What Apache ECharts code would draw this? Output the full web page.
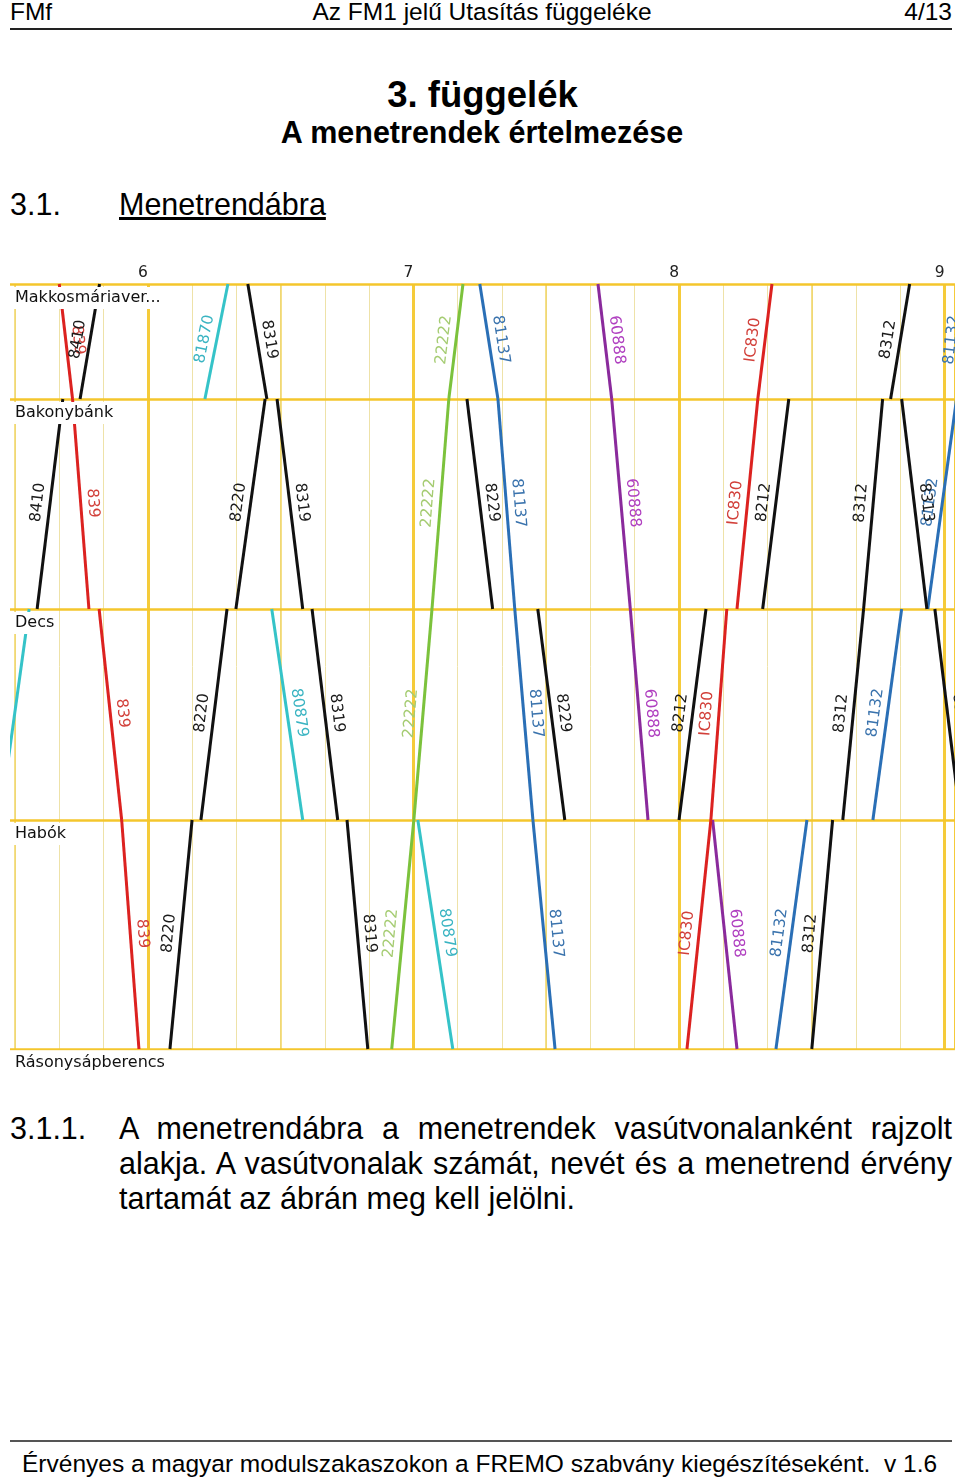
<!DOCTYPE html>
<html lang="hu">
<head>
<meta charset="utf-8">
<title>Menetrendábra</title>
<script src="https://cdn.jsdelivr.net/npm/echarts@6.0.0/dist/echarts.min.js"></script>
<style>
  body { margin: 0; background: #fff; }
  .page { position: relative; width: 960px; height: 1479px; overflow: hidden;
          font-family: 'Liberation Sans', Arial, sans-serif; color: #000; }
  .t { position: absolute; white-space: nowrap; line-height: 1; }
  .rule { position: absolute; left: 10px; width: 942px; height: 2px; background: #222; }
  .para { position: absolute; left: 119px; top: 1111px; width: 833px; font-size: 30.5px; line-height: 35px; }
  .para .j { text-align: justify; text-align-last: justify; }
  #chart { position: absolute; left: 10px; top: 250px; width: 945px; height: 830px; }
</style>
</head>
<body>
<div class="page">
  <div class="t" style="left:10px;top:0;font-size:24.5px">FMf</div>
  <div class="t" style="left:0;width:964px;text-align:center;top:0;font-size:24.5px">Az FM1 jelű Utasítás függeléke</div>
  <div class="t" style="right:8px;top:0;font-size:24.5px">4/13</div>
  <div class="rule" style="top:28px"></div>

  <div class="t" style="left:0;width:965px;text-align:center;top:77px;font-size:36.5px;font-weight:bold">3. függelék</div>
  <div class="t" style="left:0;width:964px;text-align:center;top:117px;font-size:30.5px;font-weight:bold">A menetrendek értelmezése</div>

  <div class="t" style="left:10px;top:189px;font-size:30.5px">3.1.</div>
  <div class="t" style="left:119px;top:189px;font-size:30.5px;text-decoration:underline">Menetrendábra</div>

  <div id="chart"></div>

  <div class="t" style="left:10px;top:1111px;font-size:30.5px;line-height:35px">3.1.1.</div>
  <div class="para">
    <div class="j">A menetrendábra a menetrendek vasútvonalanként rajzolt</div>
    <div class="j">alakja. A vasútvonalak számát, nevét és a menetrend érvény</div>
    <div>tartamát az ábrán meg kell jelölni.</div>
  </div>

  <div class="rule" style="top:1440px;background:#555"></div>
  <div class="t" style="left:22px;top:1452px;font-size:24.5px">Érvényes a magyar modulszakaszokon a FREMO szabvány kiegészítéseként.&nbsp; v 1.6</div>
</div>

<script>
// állomások és távolságuk (km) a vonal mentén
const stations = ['Makkosmáriaver...', 'Bakonybánk', 'Decs', 'Habók', 'Rásonysápberencs'];
const stationKm = [0, 11.5, 32.5, 53.6, 76.5];

// menetek: [idő percben éjfél óta, állomás index]
// két egymást követő pont ugyanazon az állomáson = tartózkodás
const train839 = [[340.0, 0], [343.0, 1], [346.7, 2], [349.0, 2], [354.1, 3], [358.0, 4]];
const train8410 = [[335.0, 2], [340.8, 1], [344.7, 1], [349.1, 0]];
const trainLeftCyan = [[326.6, 3], [333.2, 2]];
const train81870 = [[372.9, 1], [378.1, 0]];
const train8319 = [[382.6, 0], [386.9, 1], [389.2, 1], [395.0, 2], [397.1, 2], [402.9, 3], [405.0, 3], [409.7, 4]];
const train8220 = [[365.0, 4], [370.0, 3], [372.0, 3], [377.9, 2], [379.9, 2], [386.5, 1]];
const train80879 = [[388.0, 2], [395.0, 3], [421.0, 3], [428.9, 4]];
const train22222 = [[415.1, 4], [420.1, 3], [424.2, 2], [428.0, 1], [431.2, 0]];
const train81137 = [[435.0, 0], [439.1, 1], [442.9, 2], [447.0, 3], [452.0, 4]];
const train8229 = [[432.1, 1], [437.9, 2], [448.1, 2], [454.2, 3]];
const train60888 = [[461.7, 0], [464.8, 1], [469.0, 2], [473.0, 3], [487.6, 3], [493.1, 4]];
const trainIC830 = [[481.8, 4], [487.2, 3], [490.8, 2], [493.1, 2], [497.8, 1], [501.0, 0]];
const train8212 = [[480.0, 3], [486.1, 2], [498.9, 2], [504.8, 1]];
const train8312 = [[510.0, 4], [514.7, 3], [517.0, 3], [521.7, 2], [526.0, 1], [527.8, 1], [532.1, 0]];
const train81132 = [[501.9, 4], [508.9, 3], [523.8, 3], [530.3, 2], [536.2, 2], [542.7, 1], [545.9, 0]];
const train8313 = [[530.3, 1], [536.0, 2], [537.8, 2], [543.6, 3]];

const trains = [
  { name: '839', kind: 'red', stops: train839 },
  { name: '8410', kind: 'black', stops: train8410 },
  { name: '', kind: 'cyan', stops: trainLeftCyan },
  { name: '81870', kind: 'cyan', stops: train81870 },
  { name: '8319', kind: 'black', stops: train8319 },
  { name: '8220', kind: 'black', stops: train8220 },
  { name: '80879', kind: 'cyan', stops: train80879 },
  { name: '22222', kind: 'green', stops: train22222 },
  { name: '81137', kind: 'blue', stops: train81137 },
  { name: '8229', kind: 'black', stops: train8229 },
  { name: '60888', kind: 'purple', stops: train60888 },
  { name: 'IC830', kind: 'red', stops: trainIC830 },
  { name: '8212', kind: 'black', stops: train8212 },
  { name: '8312', kind: 'black', stops: train8312 },
  { name: '81132', kind: 'blue', stops: train81132 },
  { name: '8313', kind: 'black', stops: train8313 },
];

// színek vonattípusonként
const kindStyle = {
  red: { line: '#dc2220', text: '#d2403a' },
  black: { line: '#111111', text: '#1a1a1a' },
  cyan: { line: '#35c3c8', text: '#3ab4c2' },
  green: { line: '#7cc23c', text: '#a5cc72' },
  blue: { line: '#2a6fb6', text: '#3a73ad' },
  purple: { line: '#8a2a9c', text: '#b040c0' },
};

/* skála: 1 óra ~ 265.6 px, 5:30 a rajzterület 5. pixelén */
const pxPerMin = 265.6 / 60;
const axisMin = 300;
const gridLeft = 5 - (330 - axisMin) * pxPerMin;
const chartWidth = 945;
const axisMax = axisMin + (chartWidth - gridLeft) / pxPerMin;
const viewStart = axisMin + (0 - gridLeft) / pxPerMin;
const viewEnd = axisMax - 0.01;

const segments = [];
trains.forEach((tr) => {
  const st = kindStyle[tr.kind];
  for (let i = 0; i + 1 < tr.stops.length; i++) {
    const a = tr.stops[i];
    const b = tr.stops[i + 1];
    if (a[1] === b[1]) continue; // áll az állomáson
    segments.push({
      name: tr.name,
      coords: [[a[0], stationKm[a[1]]], [b[0], stationKm[b[1]]]],
      lineStyle: { color: st.line },
      label: { color: st.text },
    });
  }
});

const stationLines = stations.map((s, i) => ({
  name: s,
  coords: [[viewStart, stationKm[i]], [viewEnd, stationKm[i]]],
}));

const hiddenAxis = {
  type: 'value',
  min: axisMin,
  max: axisMax,
  axisLine: { show: false },
  axisTick: { show: false },
  axisLabel: { show: false },
};

const option = {
  animation: false,
  backgroundColor: '#fff',
  grid: {
    left: gridLeft,
    right: 0,
    top: 34,
    bottom: 31,
    containLabel: false,
    outerBoundsMode: 'none',
  },
  xAxis: [
    Object.assign({}, hiddenAxis, {
      interval: 10,
      splitLine: { show: true, lineStyle: { color: '#eee2a8', width: 1 } },
    }),
    Object.assign({}, hiddenAxis, {
      interval: 30,
      splitLine: { show: true, lineStyle: { color: '#f0d463', width: 1.5 } },
    }),
    Object.assign({}, hiddenAxis, {
      interval: 60,
      position: 'top',
      axisLabel: {
        show: true,
        margin: 3,
        align: 'right',
        color: '#222',
        fontSize: 15.5,
        fontFamily: 'DejaVu Sans',
        formatter: (v) => (v % 60 === 0 ? String(v / 60) : ''),
      },
      splitLine: { show: true, lineStyle: { color: '#f5cb3a', width: 3 } },
    }),
  ],
  yAxis: {
    type: 'value',
    inverse: true,
    min: 0,
    max: stationKm[stationKm.length - 1],
    axisLine: { show: false },
    axisTick: { show: false },
    axisLabel: { show: false },
    splitLine: { show: false },
  },
  series: [
    {
      // állomásvonalak
      type: 'lines',
      coordinateSystem: 'cartesian2d',
      z: 1,
      silent: true,
      lineStyle: { color: '#f4c62c', width: 2.5, opacity: 1 },
      data: stationLines,
    },
    {
      // menetvonalak
      type: 'lines',
      coordinateSystem: 'cartesian2d',
      z: 3,
      silent: true,
      lineStyle: { width: 3, opacity: 1 },
      label: {
        show: true,
        position: 'middle',
        distance: 4,
        formatter: '{b}',
        fontSize: 15.5,
        fontFamily: 'DejaVu Sans',
      },
      data: segments,
    },
    {
      // állomásnevek
      type: 'lines',
      coordinateSystem: 'cartesian2d',
      z: 5,
      silent: true,
      clip: false,
      lineStyle: { color: 'rgba(255,255,255,0)', width: 1, opacity: 1 },
      label: {
        show: true,
        position: 'insideStartBottom',
        distance: [3, 3],
        formatter: '{b}',
        color: '#111',
        fontSize: 16,
        fontFamily: 'DejaVu Sans',
        backgroundColor: '#fff',
        padding: [3, 2, 3, 2],
      },
      data: stationLines,
    },
  ],
};

const myChart = echarts.init(document.getElementById('chart'), null, { renderer: 'canvas' });
myChart.setOption(option);
</script>
</body>
</html>
